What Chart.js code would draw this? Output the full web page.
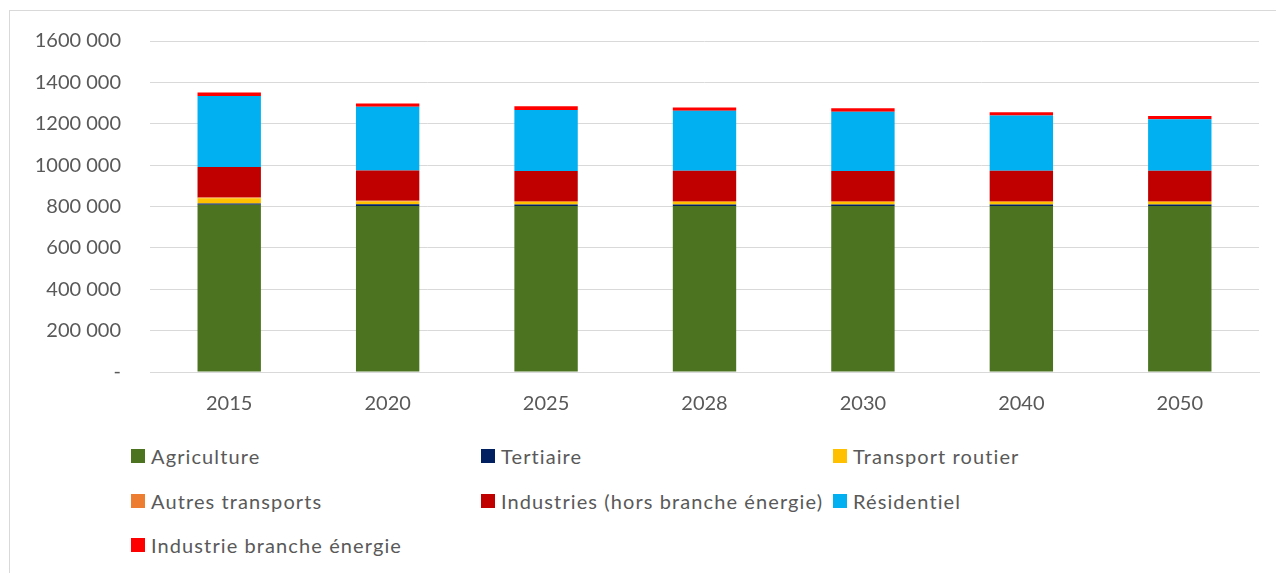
<!DOCTYPE html>
<html>
<head>
<meta charset="utf-8">
<script src="https://cdn.jsdelivr.net/npm/chart.js@4"></script>
<style>
  html, body { margin: 0; padding: 0; background: #fff; }
  body { width: 1276px; height: 573px; overflow: hidden; position: relative; font-family: Lato, "Open Sans", sans-serif; }
  #frame { position: absolute; left: 9px; top: 10px; width: 1300px; height: 600px; border: 1px solid #d9d9d9; }
  #wrap { position: absolute; left: 0; top: 0; width: 1276px; height: 430px; }
  #legend { position: absolute; left: 131px; top: 434px; display: grid; grid-template-columns: 350px 352px 300px; row-gap: 0; }
  .item { height: 44.5px; display: flex; align-items: center; color: #595959; font-size: 20px; letter-spacing: 1.1px; white-space: nowrap; }
  .box { width: 14px; height: 14px; margin-right: 6px; flex: none; }
</style>
</head>
<body>
<div id="frame"></div>
<div id="wrap"><canvas id="chart"></canvas></div>
<div id="legend"></div>
<script>
// années
const years = ["2015", "2020", "2025", "2028", "2030", "2040", "2050"];

// valeurs par secteur (unités du graphique)
const agriculture = [808000, 803000, 803000, 803000, 803000, 803000, 803000];
const tertiaire = [7000, 8000, 7000, 7000, 7000, 7000, 7000];
const transportRoutier = [25000, 13000, 12000, 12000, 12000, 12000, 12000];
const autresTransports = [4000, 4000, 4000, 4000, 4000, 4000, 4000];
const industries = [147000, 146000, 146000, 147000, 145000, 147000, 147000];
const residentiel = [343000, 308000, 295000, 290000, 287000, 267000, 249000];
const industrieEnergie = [17000, 16000, 17000, 16000, 17000, 16000, 16000];

const yTicks = [0, 200000, 400000, 600000, 800000, 1000000, 1200000, 1400000, 1600000];

const series = [
  { label: "Agriculture", data: agriculture, color: "#4b7320" },
  { label: "Tertiaire", data: tertiaire, color: "#002060" },
  { label: "Transport routier", data: transportRoutier, color: "#ffc000" },
  { label: "Autres transports", data: autresTransports, color: "#ed7d31" },
  { label: "Industries (hors branche énergie)", data: industries, color: "#c00000" },
  { label: "Résidentiel", data: residentiel, color: "#00b0f0" },
  { label: "Industrie branche énergie", data: industrieEnergie, color: "#ff0000" },
];

function fmtTick(v) {
  if (v === 0) return "-";
  return Math.floor(v / 1000) + " 000";
}

// légende HTML en 3 colonnes
const legend = document.getElementById("legend");
series.forEach((s) => {
  const it = document.createElement("div");
  it.className = "item";
  it.innerHTML = `<span class="box" style="background:${s.color}"></span><span>${s.label}</span>`;
  legend.appendChild(it);
});

Chart.defaults.font.family = "Lato, 'Open Sans', sans-serif";
Chart.defaults.color = "#595959";

new Chart(document.getElementById("chart"), {
  type: "bar",
  data: {
    labels: years,
    datasets: series.map((s) => ({
      label: s.label,
      data: s.data,
      backgroundColor: s.color,
      borderWidth: 0,
      categoryPercentage: 1,
      barPercentage: 0.4,
    })),
  },
  options: {
    responsive: true,
    maintainAspectRatio: false,
    animation: false,
    layout: { padding: { top: 39, right: 17, left: 0, bottom: 0 } },
    plugins: { legend: { display: false }, tooltip: { enabled: false } },
    scales: {
      x: {
        stacked: true,
        grid: { display: false, drawTicks: false },
        border: { display: true, color: "#d9d9d9" },
        ticks: { font: { size: 20 }, padding: 20 },
        afterFit: (scale) => { scale.height = 58; },
      },
      y: {
        stacked: true,
        min: 0,
        max: 1600000,
        afterBuildTicks: (scale) => { scale.ticks = yTicks.map((v) => ({ value: v })); },
        grid: { color: "#d9d9d9", drawTicks: false },
        border: { display: false },
        ticks: { font: { size: 20 }, padding: 29, callback: (v) => fmtTick(v) },
        afterFit: (scale) => { scale.width = 150; },
      },
    },
  },
});
</script>
</body>
</html>
